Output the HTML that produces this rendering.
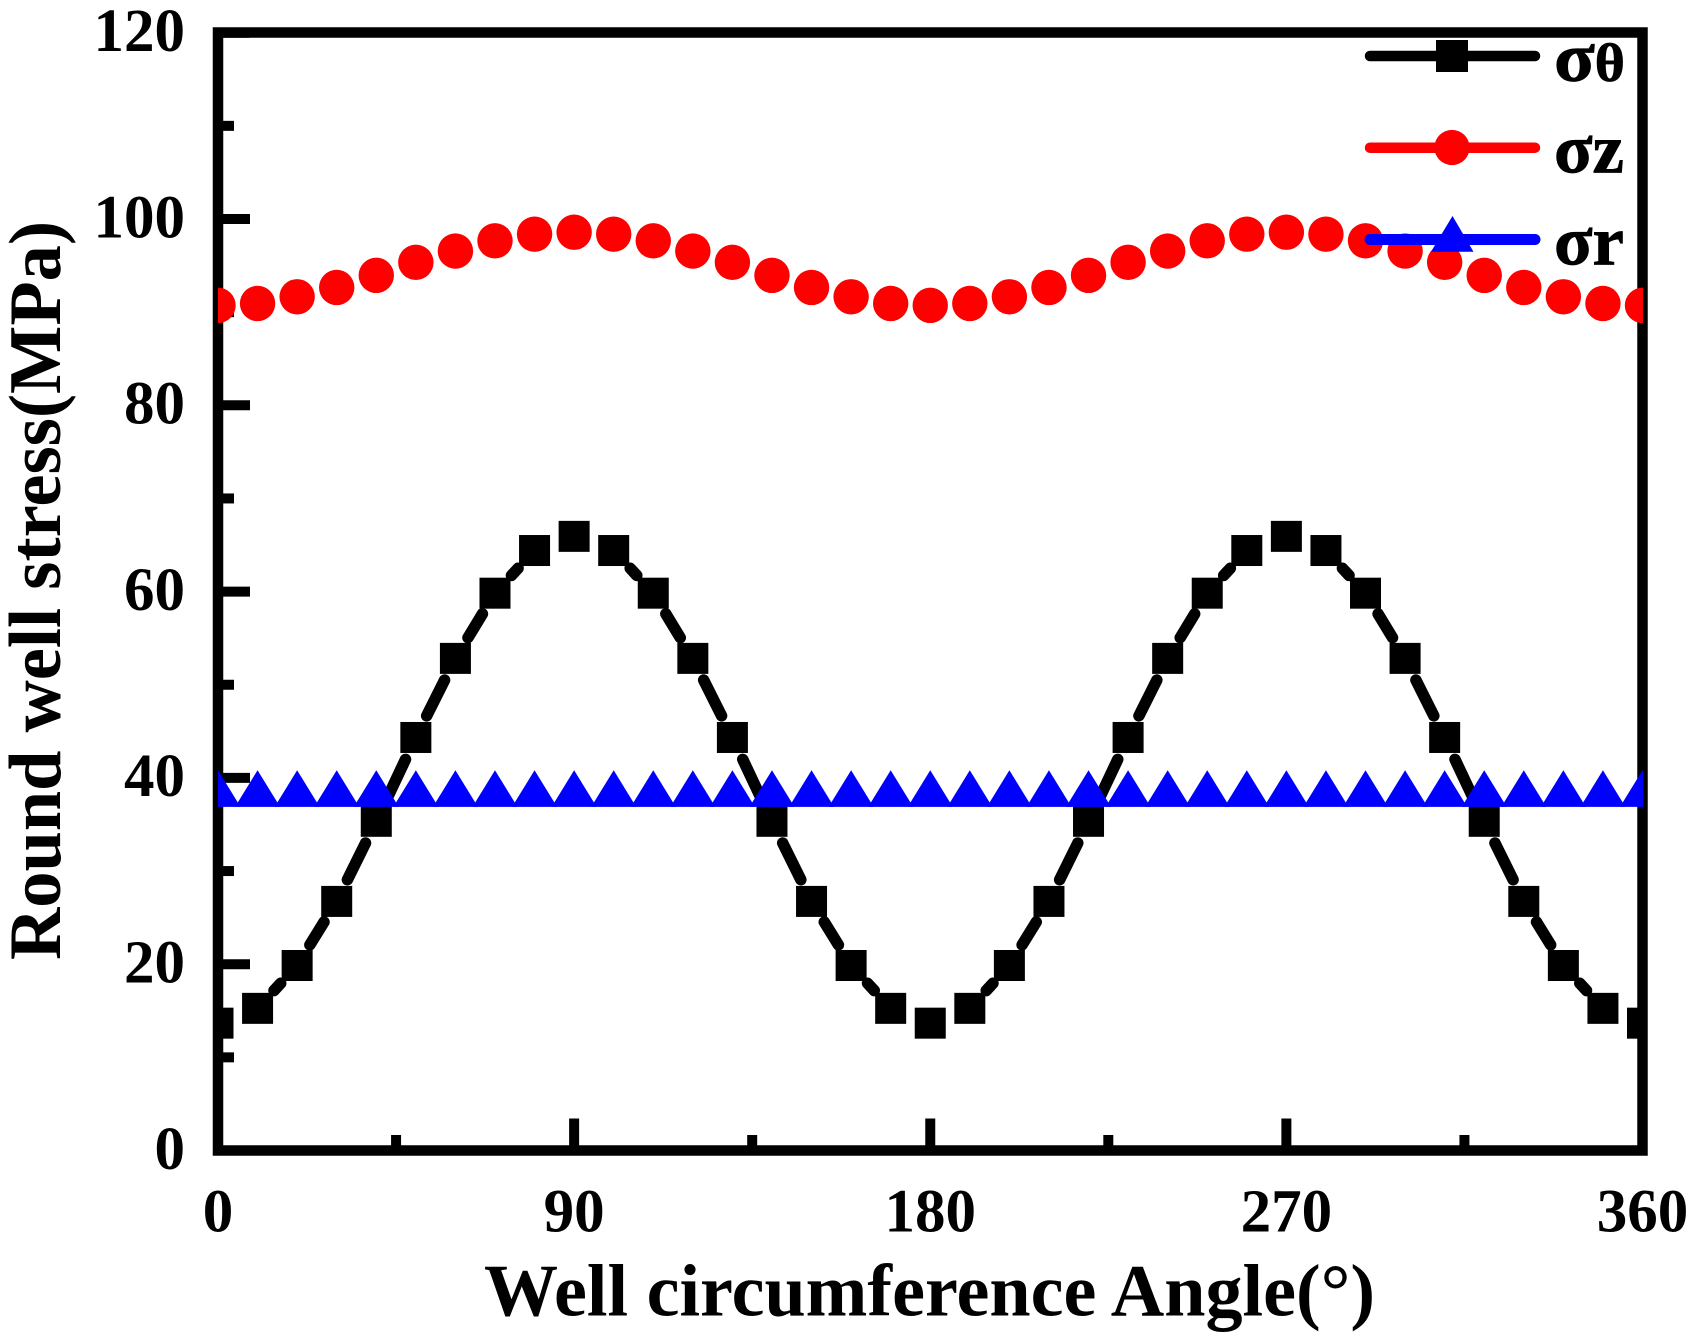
<!DOCTYPE html>
<html lang="en">
<head>
<meta charset="utf-8">
<title>Round well stress vs. well circumference angle</title>
<style>
  html, body { margin: 0; padding: 0; background: #fff; }
  #chart { display: block; width: 1698px; height: 1342px; }
  text { font-family: "Liberation Serif", "Noto Serif CJK SC", serif; font-weight: bold; fill: #000; }
  .tick-label { font-size: 61px; }
  .axis-title { font-size: 74px; }
  .legend-text { font-size: 70px; stroke: #000; stroke-width: 0.8px; }
</style>
</head>
<body>
<svg id="chart" xmlns="http://www.w3.org/2000/svg" width="1698" height="1342" viewBox="0 0 1698 1342">
  <defs>
    <clipPath id="plot-clip"><rect x="218" y="32" width="1425" height="1119"></rect></clipPath>
  </defs>
  <rect x="0" y="0" width="1698" height="1342" fill="#fff"></rect>
  <g id="ticks"></g>
  <rect x="218" y="32.5" width="1424.5" height="1118" fill="none" stroke="#000" stroke-width="10.5"></rect>
  <g id="tick-labels"></g>
  <g id="series" clip-path="url(#plot-clip)"></g>

  <text class="axis-title" x="484" y="1315.5" textLength="891" lengthAdjust="spacingAndGlyphs">Well circumference Angle(°)</text>
  <text class="axis-title" transform="translate(60 960) rotate(-90)" x="0" y="0" textLength="739" lengthAdjust="spacingAndGlyphs">Round well stress(MPa)</text>

  <g>
    <g>
      <line x1="1370" y1="56" x2="1535" y2="56" stroke="#000" stroke-width="10.5" stroke-linecap="round"></line>
      <rect x="1436" y="40" width="32" height="32" fill="#000"></rect>
      <text class="legend-text" x="1554" y="81" textLength="71" lengthAdjust="spacingAndGlyphs">σ<tspan font-size="54">θ</tspan></text>
    </g>
    <g>
      <line x1="1370" y1="147.7" x2="1535" y2="147.7" stroke="#f00" stroke-width="10.5" stroke-linecap="round"></line>
      <circle cx="1452" cy="147.5" r="17.6" fill="#f00"></circle>
      <text class="legend-text" x="1554" y="172.5" textLength="70" lengthAdjust="spacingAndGlyphs">σz</text>
    </g>
    <g>
      <line x1="1370" y1="239.5" x2="1535" y2="239.5" stroke="#00f" stroke-width="11" stroke-linecap="round"></line>
      <polygon points="1452.5,216 1473.5,251.7 1431,251.7" fill="#00f"></polygon>
      <text class="legend-text" x="1554" y="264.5" textLength="70" lengthAdjust="spacingAndGlyphs">σr</text>
    </g>
  </g>
</svg>
<script>
const angles = [0,10,20,30,40,50,60,70,80,90,100,110,120,130,140,150,160,170,180,190,200,210,220,230,240,250,260,270,280,290,300,310,320,330,340,350,360];
const sigmaTheta = [13.67,15.26,19.86,26.74,35.34,44.34,52.83,59.83,64.41,65.93,64.41,59.83,52.83,44.34,35.34,26.74,19.86,15.26,13.67,15.26,19.86,26.74,35.34,44.34,52.83,59.83,64.41,65.93,64.41,59.83,52.83,44.34,35.34,26.74,19.86,15.26,13.67];
const sigmaZ = [90.73,90.93,91.65,92.65,93.95,95.35,96.56,97.66,98.37,98.58,98.37,97.66,96.56,95.35,93.95,92.65,91.65,90.93,90.73,90.93,91.65,92.65,93.95,95.35,96.56,97.66,98.37,98.58,98.37,97.66,96.56,95.35,93.95,92.65,91.65,90.93,90.73];
const sigmaR = [38.3,38.3,38.3,38.3,38.3,38.3,38.3,38.3,38.3,38.3,38.3,38.3,38.3,38.3,38.3,38.3,38.3,38.3,38.3,38.3,38.3,38.3,38.3,38.3,38.3,38.3,38.3,38.3,38.3,38.3,38.3,38.3,38.3,38.3,38.3,38.3,38.3];
const xMajorTicks = [0,90,180,270,360];
const xMinorTicks = [45,135,225,315];
const yMajorTicks = [0,20,40,60,80,100,120];
const yMinorTicks = [10,30,50,70,90,110];

const NS = 'http://www.w3.org/2000/svg';
function xScale(v) { return 218 + (v / 360) * 1424.5; }
function yScale(v) { return 1150.5 - (v / 120) * 1117.8; }
function make(tag, parent) {
  const node = document.createElementNS(NS, tag);
  parent.appendChild(node);
  return node;
}

const ticks = document.getElementById('ticks');
const labels = document.getElementById('tick-labels');
const seriesGroup = document.getElementById('series');

function tickLine(x1, y1, x2, y2) {
  const t = make('line', ticks);
  t.setAttribute('x1', x1);
  t.setAttribute('y1', y1);
  t.setAttribute('x2', x2);
  t.setAttribute('y2', y2);
  t.setAttribute('stroke', '#000');
  t.setAttribute('stroke-width', '10');
  return t;
}

xMajorTicks.forEach(function (v) {
  const t = tickLine(xScale(v), 1150.5, xScale(v), 1118.5);
  
  
  const label = make('text', labels);
  
  
  label.setAttribute('class', 'tick-label');
  label.setAttribute('x', xScale(v));
  label.setAttribute('y', 1231.5);
  label.setAttribute('text-anchor', 'middle');
  label.textContent = String(v);
});
xMinorTicks.forEach(function (v) {
  const t = tickLine(xScale(v), 1150.5, xScale(v), 1135);
  
  
});
yMajorTicks.forEach(function (v) {
  const t = tickLine(218, yScale(v), 250, yScale(v));
  
  
  const label = make('text', labels);
  
  
  label.setAttribute('class', 'tick-label');
  label.setAttribute('x', 185);
  label.setAttribute('y', yScale(v) + 18.3);
  label.setAttribute('text-anchor', 'end');
  label.textContent = String(v);
});
yMinorTicks.forEach(function (v) {
  const t = tickLine(218, yScale(v), 234, yScale(v));
  
  
});

const GAP = 24.2;
function drawLine(values, color, name) {
  for (let i = 0; i < values.length - 1; i++) {
    const x1 = xScale(angles[i]), y1 = yScale(values[i]);
    const x2 = xScale(angles[i + 1]), y2 = yScale(values[i + 1]);
    const len = Math.hypot(x2 - x1, y2 - y1);
    if (len <= GAP * 2) continue;
    const ux = (x2 - x1) / len, uy = (y2 - y1) / len;
    const seg = make('line', seriesGroup);
    
    
    seg.setAttribute('x1', x1 + ux * GAP);
    seg.setAttribute('y1', y1 + uy * GAP);
    seg.setAttribute('x2', x2 - ux * GAP);
    seg.setAttribute('y2', y2 - uy * GAP);
    seg.setAttribute('stroke', color);
    seg.setAttribute('stroke-width', '11.5');
    seg.setAttribute('stroke-linecap', 'round');
  }
}

drawLine(sigmaTheta, '#000', 'sigma-theta');
sigmaTheta.forEach(function (v, i) {
  const m = make('rect', seriesGroup);
  
  
  m.setAttribute('x', xScale(angles[i]) - 15.5);
  m.setAttribute('y', yScale(v) - 15.5);
  m.setAttribute('width', 31);
  m.setAttribute('height', 31);
  m.setAttribute('fill', '#000');
});

drawLine(sigmaZ, '#f00', 'sigma-z');
sigmaZ.forEach(function (v, i) {
  const m = make('circle', seriesGroup);
  
  
  m.setAttribute('cx', xScale(angles[i]));
  m.setAttribute('cy', yScale(v));
  m.setAttribute('r', 17.7);
  m.setAttribute('fill', '#f00');
});

drawLine(sigmaR, '#00f', 'sigma-r');
sigmaR.forEach(function (v, i) {
  const cx = xScale(angles[i]), cy = yScale(v);
  const m = make('polygon', seriesGroup);
  
  
  m.setAttribute('points', cx + ',' + (cy - 23.5) + ' ' + (cx + 22.5) + ',' + (cy + 13.2) + ' ' + (cx - 22.5) + ',' + (cy + 13.2));
  m.setAttribute('fill', '#00f');
});
</script>
</body>
</html>
